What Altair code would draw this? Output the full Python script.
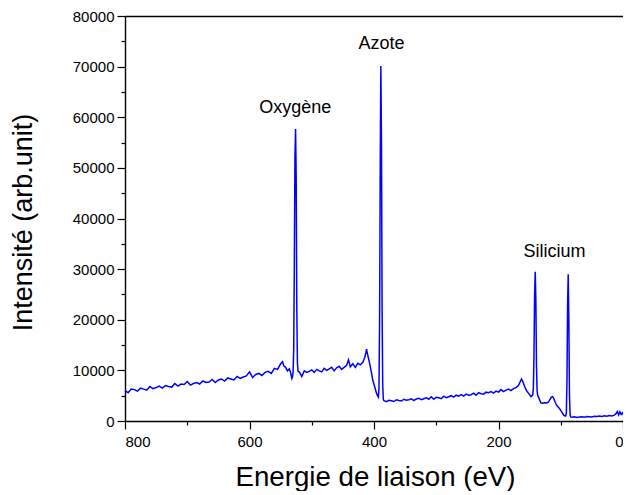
import altair as alt
import pandas as pd

# ---- spectrum (binding energy eV, intensity) ----
energy = [
    800, 795, 790, 785, 780, 775, 770, 765, 760, 755, 750, 745, 740, 735, 730, 725, 720, 715, 710, 705,
    700, 695, 690, 685, 680, 675, 670, 665, 660, 655, 650, 645, 640, 635, 630, 625, 620, 615, 610, 605,
    600, 595, 590, 585, 580, 575, 570, 565, 560, 555, 550, 547, 545, 542, 539, 536, 534, 532,
    531, 530, 529, 528, 527, 526, 525, 524, 523, 522,
    520, 516, 512, 508, 504, 500, 496, 492, 488, 484, 480, 476, 472, 468, 464, 460, 456, 452, 448, 444,
    441, 438, 434, 430, 426, 422, 418, 415, 413, 412, 410, 407, 404, 402, 399, 396, 394,
    393, 392, 391, 390, 389, 388, 387, 386, 385,
    384, 380, 376, 372, 368, 364, 360, 356, 352, 348, 344, 340, 336, 332, 328, 324, 320, 316, 312, 308,
    304, 300, 296, 292, 288, 284, 280, 276, 272, 268, 264, 260, 256, 252, 248, 244, 240, 236, 232, 228,
    224, 220, 216, 212, 208, 204, 200, 196, 192, 188, 184, 180, 176, 172, 168, 165, 163, 161, 158, 155,
    152, 150, 148, 146,
    145, 144, 143, 142, 141, 140, 139, 138, 137,
    136, 134, 132, 129, 126, 123, 120, 117, 115, 113, 111, 109, 106, 103, 100, 97, 95, 93,
    92, 91, 90, 89, 88, 87, 86, 85, 84,
    82, 78, 74, 70, 66, 62, 58, 54, 50, 46, 42, 38, 34, 30, 26, 22, 18, 14, 11, 9,
    7, 5, 3, 1, -1, -3, -5, -7, -10,
]
counts = [
    6000, 5600, 6300, 6200, 5900, 6500, 6300, 6100, 6800, 6400, 6600, 6900, 6500, 7000, 6800, 6700, 7400, 6900, 7300, 7200,
    7800, 7100, 7400, 7600, 7300, 7900, 7600, 7700, 8200, 7600, 8100, 8300, 7900, 8500, 8300, 8100, 8800, 8400, 8700, 8900,
    9700, 8600, 9200, 9400, 9000, 9600, 9800, 9400, 10400, 10200, 11300, 11700, 10900, 10600, 9900, 10300, 9600, 8400,
    8700, 9500, 14000, 30000, 52000, 57700, 48000, 22000, 11500, 9800,
    9700, 8800, 9900, 9600, 9800, 10100, 9600, 10200, 9900, 9700, 10400, 10000, 10300, 10600, 9900, 10500, 10800, 10200, 10600, 11000,
    12100, 10700, 11300, 10600, 11400, 11100, 11600, 12500, 13500, 14200, 13000, 11400, 9500, 8100, 6800, 5500, 4900,
    4700, 6500, 20000, 50000, 70100, 55000, 22000, 7000, 4300,
    4000, 3800, 4100, 4000, 3850, 4200, 4050, 3950, 4300, 4100, 4200, 4400, 4050, 4350, 4500, 4200, 4400, 4600, 4300, 4800,
    4300, 4700, 4600, 4400, 4900, 4600, 4800, 5000, 4700, 5100, 4900, 5200, 4900, 5300, 5100, 5200, 5500, 5100, 5600, 5400,
    5300, 5700, 5600, 5800, 5500, 5900, 5700, 6200, 5800, 6100, 6300, 6000, 6400, 6600, 7000, 7800, 8300, 7800, 6800, 6000,
    5500, 5200, 4800, 5000,
    5200, 6500, 13000, 25000, 29500, 24000, 11000, 6000, 5000,
    4800, 4200, 3600, 3500, 3600, 3550, 3700, 4300, 4700, 4800, 4400, 3700, 3000, 2600, 2100, 1500, 1100, 1000,
    1000, 1600, 8000, 23000, 29000, 20000, 5000, 1200, 800,
    750, 850, 700, 800, 850, 750, 900, 850, 800, 950, 900, 1000, 900, 1050, 950, 1100, 1000, 1150, 1500, 1900,
    1200, 1800, 1300, 1600, 1100, 1400, 900, 700, 650,
]
assert len(energy) == len(counts), (len(energy), len(counts))

# ---- annotations ----
ann_labels = ["Oxygène", "Azote", "Silicium"]
ann_energy = [526.5, 388, 110]
ann_counts = [60900, 73400, 32450]

# ---- ticks ----
x_ticks = [800, 700, 600, 500, 400, 300, 200, 100, 0]
y_ticks = [0, 5000, 10000, 15000, 20000, 25000, 30000, 35000, 40000,
           45000, 50000, 55000, 60000, 65000, 70000, 75000, 80000]

df = pd.DataFrame({"E": energy, "I": counts})
ann = pd.DataFrame({"label": ann_labels, "E": ann_energy, "I": ann_counts})

FONT = "Liberation Sans"

xscale = alt.Scale(domain=[0, 800], reverse=True, nice=False, zero=False)
yscale = alt.Scale(domain=[0, 80000], nice=False, zero=False)

x_axis = alt.Axis(
    values=x_ticks, format="d",
    labelExpr="datum.value % 200 == 0 ? datum.label : ''",
    tickSize={"condition": {"test": "datum.value % 200 != 0", "value": 4}, "value": 8},
    labelPadding=5,
    title="Energie de liaison (eV)", titleFontSize=27.7,
    titleX=250, titleY=64, titleBaseline="alphabetic", titleAlign="center",
)
y_axis = alt.Axis(
    values=y_ticks, format="d",
    labelExpr="datum.value % 10000 == 0 ? datum.label : ''",
    tickSize={"condition": {"test": "datum.value % 10000 != 0", "value": 4}, "value": 8},
    labelPadding=3,
    title="Intensité (arb.unit)", titleFontSize=27,
    titleX=-102, titleY=206, titleBaseline="middle", titleAlign="center", titleAngle=-90,
)

line = alt.Chart(df).mark_line(color="#0000ff", strokeWidth=1.5).encode(
    x=alt.X("E:Q", scale=xscale, axis=x_axis),
    y=alt.Y("I:Q", scale=yscale, axis=y_axis),
)

text = alt.Chart(ann).mark_text(
    font=FONT, fontSize=18, align="center", baseline="alphabetic", color="black"
).encode(
    x=alt.X("E:Q", scale=xscale,
            axis=alt.Axis(orient="top", labels=False, ticks=False, title=None)),
    y=alt.Y("I:Q", scale=yscale, axis=y_axis),
    text="label:N",
)

chart = (
    alt.layer(line, text)
    .resolve_axis(x="independent")
    .properties(
        width=498, height=405,
        autosize=alt.AutoSizeParams(type="none"),
        padding={"left": 117, "top": 8, "right": 0, "bottom": 70},
        background="white",
    )
    .configure_view(stroke=None)
    .configure_axis(
        grid=False, domainColor="black", domainWidth=1.4, tickColor="black", tickWidth=1.2,
        labelColor="black", labelFont=FONT, labelFontSize=15,
        titleFont=FONT, titleFontWeight="normal", titleColor="black",
    )
)

chart.save("out.html", embed_options={"renderer": "svg", "actions": False})
